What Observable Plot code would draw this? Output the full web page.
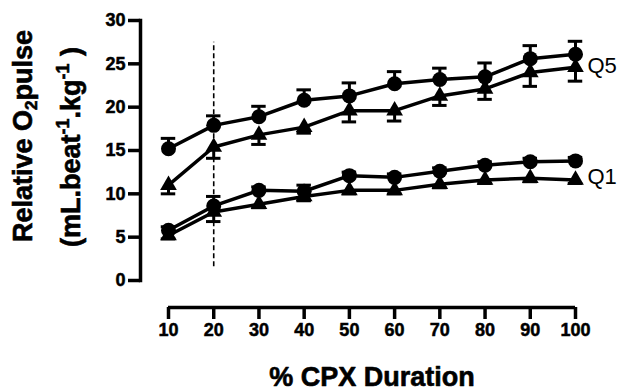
<!DOCTYPE html>
<html><head><meta charset="utf-8">
<script src="https://cdn.jsdelivr.net/npm/d3@7"></script>
<script src="https://cdn.jsdelivr.net/npm/@observablehq/plot@0.6"></script>
<style>
body{margin:0;background:#fff}
g[aria-label$="tick label"]{font-size:18px;font-weight:bold;stroke:#000;stroke-width:0.5px;}
</style>
</head><body><div id="chart"></div>
<script>
// Data
const durations = [10, 20, 30, 40, 50, 60, 70, 80, 90, 100];
const q5Circle    = [15.2, 17.9, 18.9, 20.8, 21.3, 22.7, 23.2, 23.5, 25.6, 26.1];
const q5CircleErr = [1.2, 1.1, 1.2, 1.2, 1.5, 1.4, 1.3, 1.6, 1.5, 1.5];
const q5Tri       = [11.0, 15.4, 16.8, 17.7, 19.6, 19.6, 21.3, 22.1, 24.0, 24.6];
const q5TriErr    = [1.0, 1.3, 1.1, 0.7, 1.3, 1.2, 1.1, 1.2, 1.6, 1.6];
const q1Circle    = [5.8, 8.6, 10.4, 10.3, 12.1, 11.9, 12.6, 13.3, 13.7, 13.8];
const q1CircleErr = [0.4, 1.1, 0.4, 0.7, 0.4, 0.4, 0.4, 0.4, 0.4, 0.4];
const q1Tri       = [5.2, 7.9, 8.8, 9.7, 10.4, 10.4, 11.1, 11.6, 11.8, 11.6];
const q1TriErr    = [0.4, 1.1, 0.4, 0.5, 0.4, 0.4, 0.4, 0.4, 0.4, 0.4];
const yTicks = [0, 5, 10, 15, 20, 25, 30];
const xTicks = durations;
const seriesLabels = [{label: "Q5", y: 24.8}, {label: "Q1", y: 11.9}];
const markerLine = [20];
const xTitle = "% CPX Duration";

const series = [
  {key: "Q5c", symbol: "circle", dir: 1, values: q5Circle, err: q5CircleErr},
  {key: "Q5t", symbol: "triangle", dir: -1, values: q5Tri, err: q5TriErr},
  {key: "Q1c", symbol: "circle", dir: 1, values: q1Circle, err: q1CircleErr},
  {key: "Q1t", symbol: "triangle", dir: -1, values: q1Tri, err: q1TriErr}
];
const rows = series.flatMap(s => durations.map((x, i) => ({
  key: s.key, symbol: s.symbol, x, y: s.values[i], end: s.values[i] + s.dir * s.err[i]
})));
const circles = rows.filter(d => d.symbol === "circle");
const tris = rows.filter(d => d.symbol === "triangle");

const font = "'Liberation Sans', Arial, Helvetica, sans-serif";
const plot = Plot.plot({
  width: 621, height: 390,
  marginLeft: 140, marginTop: 20, marginBottom: 110, marginRight: 0,
  x: {domain: [10, 100], range: [168, 575]},
  y: {domain: [0, 30]},
  style: {fontFamily: font, fontSize: "18px", fontWeight: "bold", color: "#000", background: "#fff"},
  marks: [
    Plot.frame({anchor: "left", strokeWidth: 3.5}),
    Plot.axisY({ticks: yTicks, tickSize: 12, strokeWidth: 3.5, tickPadding: 3, label: null, fontSize: 18, fontWeight: "bold"}),
    Plot.ruleY([0], {x1: 10, x2: 100, strokeWidth: 3.5, dy: 27}),
    Plot.axisX({ticks: xTicks, tickSize: 12, strokeWidth: 3.5, tickPadding: 4, dy: 27, label: null, tickFormat: d => String(d), fontSize: 18, fontWeight: "bold"}),
    Plot.ruleX(markerLine, {y1: 1.6, y2: 27.5, strokeDasharray: "5,3", strokeWidth: 1.6}),
    Plot.ruleX(rows, {x: "x", y1: "y", y2: "end", strokeWidth: 3}),
    Plot.ruleY(rows, {y: "end", x1: d => d.x - 1.6, x2: d => d.x + 1.6, strokeWidth: 3}),
    Plot.line(rows, {x: "x", y: "y", z: "key", stroke: "black", strokeWidth: 3.5}),
    Plot.dot(circles, {x: "x", y: "y", symbol: "circle", r: 7.5, fill: "black"}),
    Plot.dot(tris, {x: "x", y: "y", symbol: "triangle", r: 6.2, fill: "black"}),
    Plot.text(seriesLabels, {x: 100, y: "y", text: "label", dx: 12, textAnchor: "start", fontSize: 22, fontWeight: "normal"}),
    Plot.text([xTitle], {x: 55, frameAnchor: "bottom", dy: 105, lineAnchor: "bottom", fontSize: 27, fontWeight: "bold", fill: "black", stroke: "black", strokeWidth: 0.6})
  ]
});

// Y-axis title with subscript / superscripts as real text
const svg = d3.select(plot);
const t1 = svg.append("text")
  .attr("transform", "translate(32,136) rotate(-90)")
  .attr("text-anchor", "middle")
  .attr("font-family", font).attr("font-size", 27).attr("font-weight", "bold")
  .attr("fill", "#000").attr("stroke", "#000").attr("stroke-width", 0.6);
t1.append("tspan").text("Relative O");
t1.append("tspan").attr("font-size", 17).attr("dy", 5).text("2");
t1.append("tspan").attr("dy", -5).text("pulse");

const t2 = svg.append("text")
  .attr("transform", "translate(80,147) rotate(-90)")
  .attr("text-anchor", "middle")
  .attr("font-family", font).attr("font-size", 27).attr("font-weight", "bold")
  .attr("fill", "#000").attr("stroke", "#000").attr("stroke-width", 0.6);
t2.append("tspan").text("(mL.beat");
t2.append("tspan").attr("font-size", 18).attr("dy", -11).text("-1");
t2.append("tspan").attr("dy", 11).text(".kg");
t2.append("tspan").attr("font-size", 18).attr("dy", -11).text("-1");
t2.append("tspan").attr("dy", 11).text(" )");

document.getElementById("chart").appendChild(plot);
</script>
</body></html>
